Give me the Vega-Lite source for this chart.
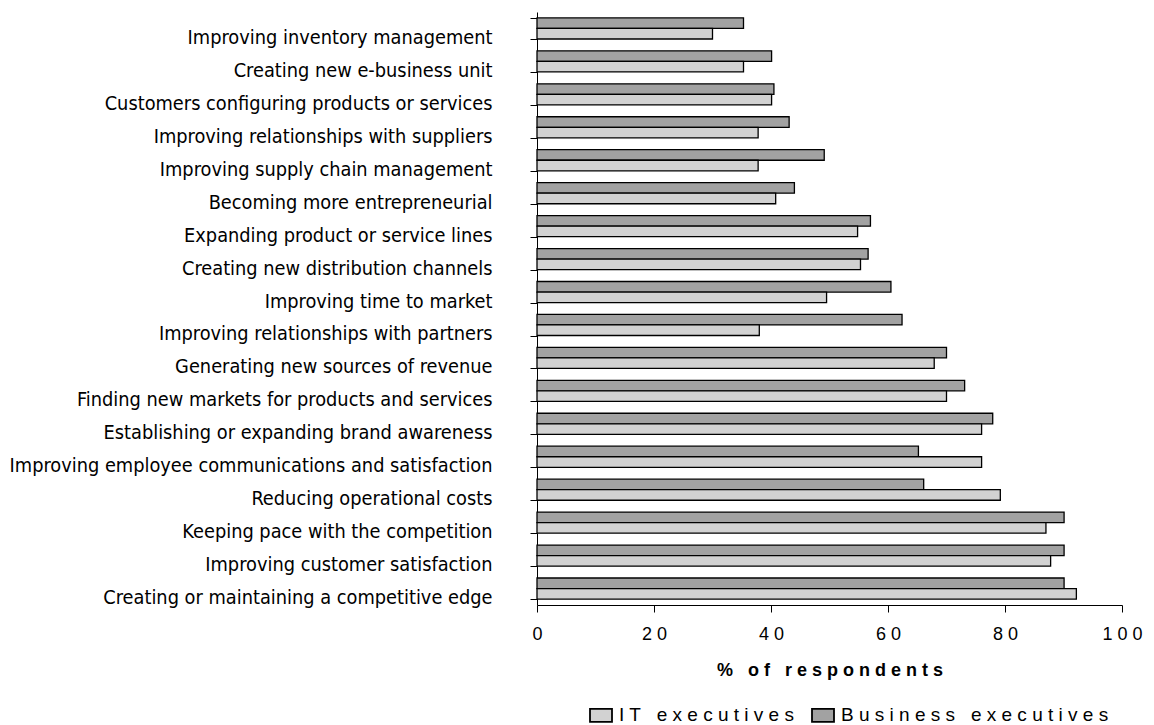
{
  "$schema": "https://vega.github.io/schema/vega-lite/v6.json",
  "autosize": {"type": "none"},
  "padding": {"left": 537, "top": 12, "right": 32, "bottom": 120},
  "width": 585,
  "height": 593,
  "background": "white",
  "config": {"view": {"stroke": null}, "font": "Liberation Sans"},
  "data": {"values": [
    {"item": "Improving inventory management", "series": "Business executives", "pct": 35.3},
    {"item": "Improving inventory management", "series": "IT executives", "pct": 30.0},
    {"item": "Creating new e-business unit", "series": "Business executives", "pct": 40.1},
    {"item": "Creating new e-business unit", "series": "IT executives", "pct": 35.3},
    {"item": "Customers configuring products or services", "series": "Business executives", "pct": 40.5},
    {"item": "Customers configuring products or services", "series": "IT executives", "pct": 40.1},
    {"item": "Improving relationships with suppliers", "series": "Business executives", "pct": 43.1},
    {"item": "Improving relationships with suppliers", "series": "IT executives", "pct": 37.8},
    {"item": "Improving supply chain management", "series": "Business executives", "pct": 49.1},
    {"item": "Improving supply chain management", "series": "IT executives", "pct": 37.8},
    {"item": "Becoming more entrepreneurial", "series": "Business executives", "pct": 44.0},
    {"item": "Becoming more entrepreneurial", "series": "IT executives", "pct": 40.8},
    {"item": "Expanding product or service lines", "series": "Business executives", "pct": 57.0},
    {"item": "Expanding product or service lines", "series": "IT executives", "pct": 54.8},
    {"item": "Creating new distribution channels", "series": "Business executives", "pct": 56.6},
    {"item": "Creating new distribution channels", "series": "IT executives", "pct": 55.3},
    {"item": "Improving time to market", "series": "Business executives", "pct": 60.5},
    {"item": "Improving time to market", "series": "IT executives", "pct": 49.5},
    {"item": "Improving relationships with partners", "series": "Business executives", "pct": 62.4},
    {"item": "Improving relationships with partners", "series": "IT executives", "pct": 38.0},
    {"item": "Generating new sources of revenue", "series": "Business executives", "pct": 70.0},
    {"item": "Generating new sources of revenue", "series": "IT executives", "pct": 67.9},
    {"item": "Finding new markets for products and services", "series": "Business executives", "pct": 73.1},
    {"item": "Finding new markets for products and services", "series": "IT executives", "pct": 70.0},
    {"item": "Establishing or expanding brand awareness", "series": "Business executives", "pct": 77.9},
    {"item": "Establishing or expanding brand awareness", "series": "IT executives", "pct": 76.0},
    {"item": "Improving employee communications and satisfaction", "series": "Business executives", "pct": 65.2},
    {"item": "Improving employee communications and satisfaction", "series": "IT executives", "pct": 76.0},
    {"item": "Reducing operational costs", "series": "Business executives", "pct": 66.1},
    {"item": "Reducing operational costs", "series": "IT executives", "pct": 79.2},
    {"item": "Keeping pace with the competition", "series": "Business executives", "pct": 90.1},
    {"item": "Keeping pace with the competition", "series": "IT executives", "pct": 87.0},
    {"item": "Improving customer satisfaction", "series": "Business executives", "pct": 90.1},
    {"item": "Improving customer satisfaction", "series": "IT executives", "pct": 87.8},
    {"item": "Creating or maintaining a competitive edge", "series": "Business executives", "pct": 90.1},
    {"item": "Creating or maintaining a competitive edge", "series": "IT executives", "pct": 92.2}
  ]},
  "mark": {"type": "bar", "stroke": "black", "strokeWidth": 1.3, "cornerRadius": 0},
  "encoding": {
    "y": {
      "field": "item", "type": "nominal", "sort": null,
      "scale": {"paddingInner": 0.36, "paddingOuter": 0.18},
      "axis": {
        "title": null, "tickBand": "extent", "tickSize": 7, "tickColor": "black",
        "domainColor": "black", "labelPadding": 38, "labelOffset": 9,
        "labelFont": "DejaVu Sans Condensed, Liberation Sans",
        "labelFontSize": 19.8, "labelColor": "black", "labelLimit": 600, "grid": false
      }
    },
    "yOffset": {"field": "series", "type": "nominal", "sort": ["Business executives", "IT executives"]},
    "x": {
      "field": "pct", "type": "quantitative",
      "scale": {"domain": [0, 100], "nice": false},
      "axis": {
        "title": "%\u00a0\u00a0 o f\u00a0\u00a0 r e s p o n d e n t s", "values": [0, 20, 40, 60, 80, 100],
        "labelExpr": "join(split(datum.label, ''), ' ')", "labelFlush": false,
        "grid": false, "tickSize": 7, "tickColor": "black", "domainColor": "black",
        "labelFontSize": 18, "labelColor": "black", "labelPadding": 13,
        "titleFontSize": 18, "titleFontWeight": "bold", "titleColor": "black", "titlePadding": 18
      }
    },
    "color": {
      "field": "series", "type": "nominal",
      "scale": {"domain": ["IT executives", "Business executives"], "range": ["#d2d2d2", "#a2a2a2"]},
      "legend": {
        "title": null, "orient": "none", "direction": "horizontal",
        "legendX": 52, "legendY": 691,
        "symbolType": "M-1,-0.59H1V0.59H-1Z", "symbolSize": 484,
        "symbolStrokeColor": "black", "symbolStrokeWidth": 1.8, "symbolOpacity": 1,
        "labelExpr": "replace(join(split(datum.label, ''), ' '), '   ', '\u00a0\u00a0 ')",
        "labelFontSize": 19, "labelColor": "black", "labelLimit": 600,
        "columnPadding": 13, "labelOffset": 6
      }
    }
  }
}
